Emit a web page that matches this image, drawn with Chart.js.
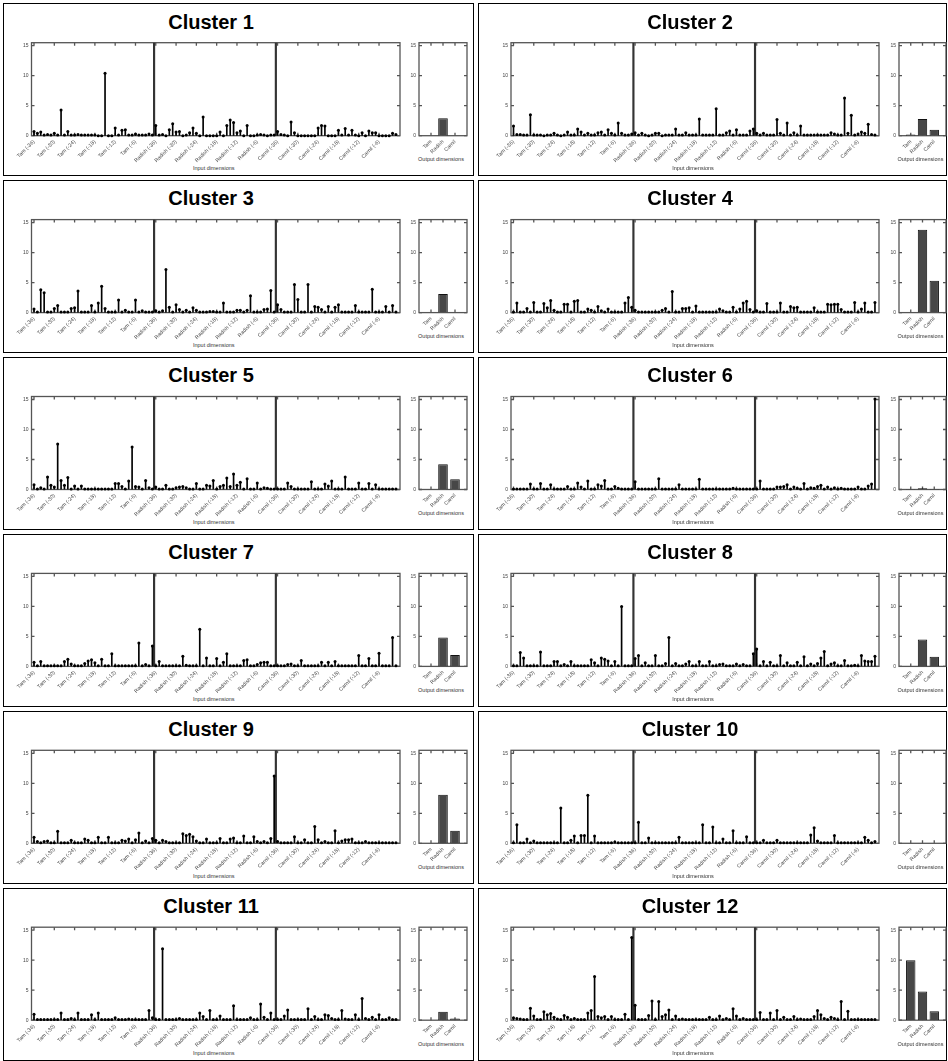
<!DOCTYPE html>
<html>
<head>
<meta charset="utf-8">
<script src="https://cdn.jsdelivr.net/npm/chart.js@4.4.1/dist/chart.umd.min.js"></script>
<style>
  body { margin: 0; background: #fff; width: 948px; height: 1061px; position: relative; overflow: hidden;
         font-family: "Liberation Sans", Arial, sans-serif; }
  .box { position: absolute; border: 1px solid #000; box-sizing: border-box; }
  .title { position: absolute; font-weight: bold; font-size: 20px; line-height: 20px; transform: translateX(-50%); white-space: nowrap; }
  .axt { position: absolute; font-size: 5.5px; line-height: 6px; color: #333; transform: translateX(-50%); white-space: nowrap; }
  canvas { position: absolute; }
</style>
</head>
<body>
<script>
// ---- data ----
const inputGroups = ['Tam', 'Radish', 'Carnil'];
const lagLabels = ['(-36)', '(-30)', '(-24)', '(-18)', '(-12)', '(-6)'];
const outputLabels = ['Tam', 'Radish', 'Carnil'];
const yTicks = [0, 5, 10, 15];
const clusterNames = ['Cluster 1', 'Cluster 2', 'Cluster 3', 'Cluster 4', 'Cluster 5', 'Cluster 6',
                      'Cluster 7', 'Cluster 8', 'Cluster 9', 'Cluster 10', 'Cluster 11', 'Cluster 12'];

// input dimension weights, 108 per cluster (3 groups x 36 lags)
const input1 = [
  0.7,0.4,0.6,0.1,0.2,0.1,0.4,0.1,4.3, 0.1,0.7,0.1,0.1,0.2,0.1,0.1,0.1,0.1,
  0.1,0,0,10.4,0,0,1.3,0.1,0.9, 1.0,0.1,0.1,0.3,0.1,0.1,0.1,0.3,0.1,
  1.7,0.1,0.2,0,1.0,2.0,0.6,0.7,0, 0.1,0.5,1.3,0.4,0,3.1,0,0,0,
  0,0.6,0,1.7,2.6,2.2,0.5,0.8,0, 1.7,0,0,0.1,0.2,0.1,0,0.1,0.1,
  0.7,0.2,0.1,0,2.3,0.5,0,0,0, 0,0,0,1.3,1.7,1.6,0,0,0,
  0.9,0.1,1.2,0.1,0.9,0.1,0,0.5,0, 0.8,0.5,0.5,0,0,0,0,0.4,0.2];
const input2 = [
  1.6,0.2,0.2,0.1,0.1,3.5,0.1,0.1,0.1, 0,0.1,0.1,0.4,0.1,0,0.1,0.6,0.1,
  0.1,1.1,0.6,0.1,0.4,0.1,0.1,0.5,0.6, 0.1,1.0,0.4,0.1,2.1,0.4,0.1,0.1,0.3,
  0.5,0.1,0.4,0.1,0,0.1,0.4,0.4,0, 0.1,0.1,0.1,1.1,0.1,0.1,0.5,0.1,0.1,
  0.1,2.8,0.1,0.1,0.1,0.1,4.5,0.1,0.1, 0.5,0.8,0.1,1.0,0.1,0.1,0.1,0.8,1.1,
  0.4,0.1,0.4,0.1,0.1,0.1,2.7,0.4,0.1, 2.1,0.1,0.5,0.1,1.6,0.1,0.1,0.1,0.1,
  0.1,0.1,0.1,0.1,0.5,0.3,0.1,0.1,6.3, 0.4,3.4,0.1,0.3,0.6,0.4,1.9,0.2,0.1];
const input3 = [
  0.6,0.1,3.8,3.3,0.1,0.1,0.7,1.2,0.1, 0.1,0.1,0.7,0.8,3.6,0.1,0.1,0.1,1.2,
  0.1,1.6,4.4,0.7,0.1,0.1,0.1,2.1,0.1, 0.4,0.1,0.1,2.1,0.1,0.3,0.1,0.1,0.1,
  0.3,0.1,0.3,7.2,0.9,0.1,1.3,0.5,0.1, 0.4,0.1,0.8,0.4,0.1,0.1,0.1,0.2,0.2,
  0.1,0.1,1.6,0.1,0.1,0.1,0.4,0.4,0.1, 0.4,2.8,0.1,0.1,0.1,0.5,0.6,3.7,0.1,
  1.3,0.5,0.1,0.1,0.1,4.7,2.2,0.1,0.1, 4.7,0.1,1.0,0.9,0.5,0.1,1.0,0.1,0.9,
  1.3,0.1,0.1,0.1,0.1,1.2,0.1,0.1,0.1, 0.1,3.9,0.1,0.1,0.1,1.0,0.1,1.2,0.1];
const input4 = [
  0.1,1.6,0.1,0.1,0.7,0.1,1.7,0.1,0.1, 1.5,0.8,2.0,0.4,0.1,0.1,1.4,1.4,0.1,
  1.9,2.0,0.1,0.1,0.6,0.4,0.1,1.0,0.3, 0.1,0.6,0.1,0.1,0.1,0.1,1.6,2.5,0.9,
  0.4,0.1,0.1,0.1,0.1,0.1,0.1,0.1,0.4, 0.7,0.1,3.5,0.1,0.1,0.7,0.7,0.8,0.1,
  1.1,0.1,0.1,0.1,0.1,0.1,0.1,0.6,0.3, 0.1,0.1,0.9,0.1,0.6,1.6,1.9,0.5,0.1,
  0.3,0.1,0.1,1.5,0.1,0.1,0.1,1.6,0.1, 0.1,1.0,0.8,0.9,0.1,0.1,0.1,0.1,0.8,
  0.1,0.1,0.1,1.4,1.3,1.4,1.4,0.5,0.1, 0.1,0.1,1.7,0.1,0.6,1.6,0.1,0.1,1.7];
const input5 = [
  0.8,0.1,0.3,0.1,2.1,0.7,0.4,7.6,1.5, 0.7,2.0,0.1,0.6,0.1,0.6,0.1,0.1,0.1,
  0.1,0.1,0.1,0.1,0.1,0.1,1.0,1.0,0.5, 0.1,1.4,7.1,0.5,0.4,0.1,1.5,0.3,0.1,
  0.4,0.1,0.1,0.7,0.1,0.1,0.3,0.4,0.5, 0.3,0.1,0.1,1.0,0.1,0.1,0.7,0.6,1.5,
  0.1,0.5,0.7,1.9,0.5,2.6,0.7,1.2,0.1, 1.8,0.1,0.1,1.1,0.1,0.3,0.2,0.1,0.1,
  0.1,0.1,0.1,1.1,0.5,0.1,0.1,0.1,0.1, 0.1,1.3,0.1,0.1,0.1,0.9,0.6,1.4,0.1,
  0.1,0.1,2.1,0.1,0.1,0.1,1.1,0.1,0.1, 1.0,0.1,0.8,0.1,0.1,0.1,0.1,0.1,0.1];
const input6 = [
  0.1,0.1,0.1,0.1,0.1,0.9,0.1,0.1,1.0, 0.1,0.1,0.8,0.1,0.1,0.1,0.1,0.5,0.1,
  0.1,1.1,0.4,0.1,1.4,0.1,0.1,0.8,0.6, 1.5,0.1,0.1,0.5,0.2,0.1,0.1,0.1,0.1,
  1.3,0.1,0.1,0.1,0.1,0.1,0.1,1.8,0.1, 0.1,0.1,0.1,0.1,0.8,0.1,0.1,0.1,0.1,
  0.1,1.7,0.1,0.1,0.1,0.1,0.1,0.1,0.1, 0.1,0.1,0.2,0.1,0.1,0.1,0.1,0.1,0.1,
  0.1,1.4,0.1,0.1,0.1,0.1,0.4,0.4,0.5, 0.8,0.1,0.4,0.2,0.1,1.0,0.1,0.3,0.2,
  0.5,0.7,0.1,0.4,0.1,0.3,0.1,0.2,0.1, 0.1,0.1,0.1,0.4,0.1,0.1,0.6,0.9,15.1];
const input7 = [
  0.7,0.1,0.8,0.1,0.1,0.1,0.1,0.1,0.1, 0.8,1.2,0.4,0.1,0.1,0.1,0.5,0.9,1.1,
  0.6,0.1,1.2,0.1,0.1,2.1,0.1,0.1,0.1, 0.1,0.1,0.1,0.1,3.9,0.1,0.3,0.1,3.4,
  0.1,0.8,0.1,0.1,0.1,0.1,0.1,0.1,1.7, 0.2,0.1,0.1,0.1,6.2,0.1,1.4,0.1,0.1,
  1.3,0.1,0.7,2.1,0.1,0.1,0.1,0.1,1.0, 1.1,0.1,0.1,0.3,0.6,0.7,0.7,0.1,0.1,
  0.1,0.1,0.1,0.3,0.4,0.1,0.1,1.0,0.1, 0.1,0.1,0.1,0.1,0.7,0.1,0.7,0.1,0.8,
  0.1,0.1,0.1,0.1,0.1,0.1,1.8,0.1,0.1, 1.3,0.1,0.1,2.2,0.1,0.1,0.1,4.8,0.1];
const input8 = [
  0.1,0.1,2.3,1.4,0.1,0.1,0.1,0.1,2.4, 0.1,0.1,0.1,0.8,0.8,0.1,0.3,0.1,0.8,
  0.1,0.1,0.1,0.1,0.1,1.1,0.6,0.1,1.4, 1.2,0.9,0.1,0.8,0.1,10.0,0.1,0.1,0.1,
  1.3,1.8,0.1,0.6,0.1,0.1,1.8,0.1,0.1, 0.5,4.8,0.1,0.5,0.1,0.1,0.4,0.8,0.1,
  0.1,0.8,0.1,0.1,0.8,0.1,0.1,0.3,0.4, 0.1,0.1,0.1,0.4,0.1,0.3,0.1,0.1,2.1,
  2.9,0.1,0.8,0.1,0.7,0.1,0.1,1.8,0.1, 0.6,0.1,0.1,0.7,0.1,1.6,0.1,0.4,0.1,
  0.5,1.4,2.5,0.1,0.4,0.6,0.1,0.1,1.0, 0.1,0.1,0.2,0.1,1.8,0.9,0.8,0.8,1.7];
const input9 = [
  1.0,0.3,0.1,0.3,0.4,0.1,0.1,2.0,0.1, 0.1,0.1,0.5,0.1,0.1,0.1,0.7,0.5,0.1,
  0.1,1.0,0.1,0.1,1.0,0.1,0.1,0.1,0.5, 0.4,0.7,0.1,0.6,1.7,0.1,0.4,0.1,0.8,
  0.5,0.1,0.5,0.3,0.1,0.1,0.1,0.1,1.6, 1.3,1.5,1.1,0.4,0.1,0.1,0.7,0.1,0.1,
  0.1,0.8,0.1,0.1,0.7,0.9,0.1,0.1,1.2, 0.1,0.1,1.1,0.3,0.1,0.3,0.1,0.8,11.2,
  0.3,0.1,0.1,0.1,0.1,1.1,0.1,0.1,0.6, 0.1,0.1,2.8,0.6,0.1,0.3,0.1,0.1,2.1,
  0.1,0.4,0.6,0.6,0.7,0.1,0.1,0.1,0.3, 0.1,0.1,0.1,0.1,0.1,0.1,0.1,0.1,0.1];
const input10 = [
  0.1,3.1,0.1,0.1,0.7,0.1,0.4,0.1,0.1, 0.1,0.1,0.1,0.1,0.1,5.9,0.1,0.1,0.5,
  1.2,0.1,1.3,1.3,8.0,0.1,1.2,0.1,0.1, 0.1,0.1,0.1,0.2,0.1,0.1,0.1,0.1,0.1,
  0.1,3.5,0.1,0.1,0.9,0.1,0.1,0.1,0.1, 0.1,0.1,0.1,0.1,1.0,0.1,0.1,0.1,0.1,
  0.1,0.1,3.1,0.1,0.1,2.7,0.1,0.1,0.7, 0.1,0.1,2.1,0.1,0.1,0.1,1.1,0.1,0.1,
  0.1,0.1,0.5,0.1,0.1,0.1,0.5,0.1,0.1, 0.1,0.1,0.1,0.1,0.1,0.1,0.1,1.4,2.6,
  0.4,0.1,0.1,0.1,0.1,1.3,0.1,0.1,0.1, 0.1,0.1,0.1,0.1,0.1,1.0,0.5,0.1,0.3];
const input11 = [
  1.0,0.1,0.1,0.1,0.1,0.1,0.1,0.1,1.2, 0.1,0.1,0.3,0.1,1.2,0.1,0.1,0.1,0.9,
  0.1,1.2,0.1,0.1,0.1,0.1,0.4,0.1,0.1, 0.1,0.2,0.1,0.1,0.1,0.1,0.1,1.6,0.4,
  0.1,0.1,11.9,0.1,0.1,0.1,0.1,0.3,0.1, 0.1,0.1,0.1,0.1,1.2,0.6,0.1,1.6,0.1,
  0.1,0.7,0.1,0.1,0.1,2.4,0.1,0.1,0.1, 0.1,0.4,0.1,0.1,2.7,0.5,0.1,1.2,0.1,
  0.1,0.1,0.7,1.7,0.1,0.1,0.1,0.1,0.1, 1.9,0.1,0.6,0.1,0.1,0.9,0.8,0.3,0.1,
  0.1,1.6,0.2,0.1,0.1,0.9,0.1,3.6,0.3, 0.1,0.5,0.1,0.9,0.1,0.1,0.4,0.1,0.1];
const input12 = [
  0.4,0.3,0.2,0.1,0.1,2.0,0.7,0.1,0.1, 1.4,0.9,1.1,0.5,0.2,0.1,0.8,0.5,0.1,
  0.3,0.1,0.1,0.1,1.2,1.6,7.3,0.6,0.4, 0.6,0.1,0.6,0.1,0.1,0.1,1.0,0.1,13.8,
  2.5,0.1,0.1,0.1,0.8,3.2,0.1,3.1,0.6, 0.9,1.7,0.1,0.7,0.1,0.2,0.1,0.1,0.1,
  0.1,0.1,0.1,0.1,0.5,0.1,0.1,0.7,0.1, 0.3,0.1,1.9,0.7,0.1,0.3,0.1,0.1,0.1,
  0.1,1.3,0.1,0.1,1.2,0.1,1.6,0.1,0.5, 0.1,0.1,0.6,0.1,0.2,0.1,0.1,0.1,0.6,
  1.6,0.9,0.3,0.1,0.5,0.3,0.1,3.1,0.1, 1.5,0.1,0.1,0.1,0.1,0.1,0.1,0.1,0.1];

// output dimension weights (Tam, Radish, Carnil)
const output1 = [0, 2.9, 0];
const output2 = [0.2, 2.8, 1.0];
const output3 = [0, 3.1, 0];
const output4 = [0, 13.8, 5.3];
const output5 = [0, 4.2, 1.7];
const output6 = [0.1, 0.2, 0.1];
const output7 = [0, 4.8, 1.9];
const output8 = [0, 4.5, 1.6];
const output9 = [0, 8.1, 2.1];
const output10 = [0, 0, 0];
const output11 = [0, 1.4, 0.3];
const output12 = [10.0, 4.8, 1.5];

const inputs = [input1, input2, input3, input4, input5, input6, input7, input8, input9, input10, input11, input12];
const outputs = [output1, output2, output3, output4, output5, output6, output7, output8, output9, output10, output11, output12];

// ---- layout ----
const LAGS = 36;
const xTickPos = [];          // every 6th input dim gets a label
const xTickText = {};
inputGroups.forEach((g, gi) => lagLabels.forEach((l, li) => {
  const v = gi * LAGS + li * 6 + 1;
  xTickPos.push(v);
  xTickText[v] = g + ' ' + l;
}));
const groupEdges = [LAGS + 0.5, 2 * LAGS + 0.5];

const cols = [
  { boxL: 3, boxR: 474, stemL: 31.5, stemR: 402, barL: 419, barR: 467, titleX: 211 },
  { boxL: 478, boxR: 947, stemL: 511, stemR: 881, barL: 899, barR: 946, titleX: 690 }
];
const ROW0 = 3, ROWSTEP = 176.9, BOXH = 173;
const PLOT_TOP = 39.7, PLOT_BOT = 132.7;
const AXIS_COL = '#555', LABEL_COL = '#444';
const TICK_FONT = { size: 5.3, family: 'Liberation Sans' };

const boxPlugin = {
  id: 'boxAxes',
  beforeDatasetsDraw(chart) {
    const { ctx, chartArea: a, scales } = chart;
    ctx.save();
    ctx.strokeStyle = AXIS_COL;
    ctx.lineWidth = 1.3;
    ctx.strokeRect(a.left, a.top, a.right - a.left, a.bottom - a.top);
    ctx.beginPath();
    scales.x.ticks.forEach(t => {
      const px = scales.x.getPixelForValue(t.value);
      ctx.moveTo(px, a.bottom); ctx.lineTo(px, a.bottom - 3);
      ctx.moveTo(px, a.top); ctx.lineTo(px, a.top + 3);
    });
    scales.y.ticks.forEach(t => {
      const py = scales.y.getPixelForValue(t.value);
      ctx.moveTo(a.left, py); ctx.lineTo(a.left + 3, py);
      ctx.moveTo(a.right, py); ctx.lineTo(a.right - 3, py);
    });
    ctx.stroke();
    ctx.restore();
  }
};

function makeCanvas(left, top, w, h) {
  const c = document.createElement('canvas');
  c.width = w; c.height = h;
  c.style.left = left + 'px'; c.style.top = top + 'px';
  c.style.width = w + 'px'; c.style.height = h + 'px';
  document.body.appendChild(c);
  return c;
}
function addDiv(cls, text, x, y) {
  const d = document.createElement('div');
  d.className = cls; d.textContent = text;
  d.style.left = x + 'px'; d.style.top = y + 'px';
  document.body.appendChild(d);
}

const noGrid = { display: false, drawTicks: false };
const yScale = (w) => ({
  min: 0, max: 15.5,
  grid: noGrid, border: { display: false },
  afterBuildTicks: s => { s.ticks = yTicks.map(v => ({ value: v })); },
  ticks: { font: { size: 5, family: 'Liberation Sans' }, color: LABEL_COL, padding: 3 },
  afterFit: s => { s.width = w; }
});

for (let k = 0; k < 12; k++) {
  const col = cols[k % 2];
  const top = ROW0 + Math.floor(k / 2) * ROWSTEP;

  const box = document.createElement('div');
  box.className = 'box';
  box.style.left = col.boxL + 'px'; box.style.top = top + 'px';
  box.style.width = (col.boxR - col.boxL) + 'px'; box.style.height = BOXH + 'px';
  document.body.appendChild(box);

  addDiv('title', clusterNames[k], col.titleX, top + 8.5);
  addDiv('axt', 'Input dimensions', (col.stemL + col.stemR) / 2 - 3, top + 162);
  addDiv('axt', 'Output dimensions', (col.barL + col.barR) / 2 - 2, top + 153);

  // stem plot of input dimensions
  const cl = Math.round(col.stemL) - 30, ct = Math.round(top) + 28;
  const cw = Math.round(col.stemR - cl) + 2, ch = 140;
  const yW = col.stemL - cl;
  const padTop = top + PLOT_TOP - ct;
  const xH = ch - (top + PLOT_BOT - ct);
  const pts = inputs[k].map((v, i) => ({ x: i + 1, y: v }));
  new Chart(makeCanvas(cl, ct, cw, ch), {
    type: 'bar',
    data: {
      datasets: [
        { type: 'bar', data: groupEdges.map(x => ({ x, y: 15.5 })), backgroundColor: '#333',
          barThickness: 1.5, grouped: false, order: 3 },
        { type: 'bar', data: pts, backgroundColor: '#000', barThickness: 1, grouped: false, order: 2 },
        { type: 'scatter', data: pts, pointRadius: 1.5, pointBackgroundColor: '#000',
          pointBorderWidth: 0, showLine: false, clip: false, order: 1 }
      ]
    },
    options: {
      animation: false, responsive: false, devicePixelRatio: 1,
      plugins: { legend: { display: false }, tooltip: { enabled: false } },
      layout: { padding: { top: padTop, right: cw - (col.stemR - cl), left: 0, bottom: 0 } },
      scales: {
        x: {
          type: 'linear', min: 0.26, max: 109.2, offset: false,
          grid: noGrid, border: { display: false },
          afterBuildTicks: s => { s.ticks = xTickPos.map(v => ({ value: v })); },
          ticks: { autoSkip: false, minRotation: 45, maxRotation: 45, padding: 3,
                   font: TICK_FONT, color: LABEL_COL,
                   callback: v => xTickText[v] || '' },
          afterFit: s => { s.height = xH; }
        },
        y: yScale(yW)
      }
    },
    plugins: [boxPlugin]
  });

  // bar plot of output dimensions
  const bl = Math.round(col.barL) - 18, bw = Math.round(col.barR - bl) + 1;
  new Chart(makeCanvas(bl, ct, bw, ch), {
    type: 'bar',
    data: {
      datasets: [{
        data: outputs[k].map((v, i) => ({ x: i + 1, y: v })),
        backgroundColor: '#474747', borderColor: '#111', borderWidth: 1,
        barPercentage: 1, categoryPercentage: 0.8
      }]
    },
    options: {
      animation: false, responsive: false, devicePixelRatio: 1,
      plugins: { legend: { display: false }, tooltip: { enabled: false } },
      layout: { padding: { top: padTop, right: bw - (col.barR - bl), left: 0, bottom: 0 } },
      scales: {
        x: {
          type: 'linear', min: 0, max: 4, offset: false,
          grid: noGrid, border: { display: false },
          afterBuildTicks: s => { s.ticks = [1, 2, 3].map(v => ({ value: v })); },
          ticks: { autoSkip: false, minRotation: 45, maxRotation: 45, padding: 3,
                   font: TICK_FONT, color: LABEL_COL,
                   callback: v => outputLabels[v - 1] },
          afterFit: s => { s.height = xH; }
        },
        y: yScale(col.barL - bl)
      }
    },
    plugins: [boxPlugin]
  });
}
</script>
</body>
</html>
